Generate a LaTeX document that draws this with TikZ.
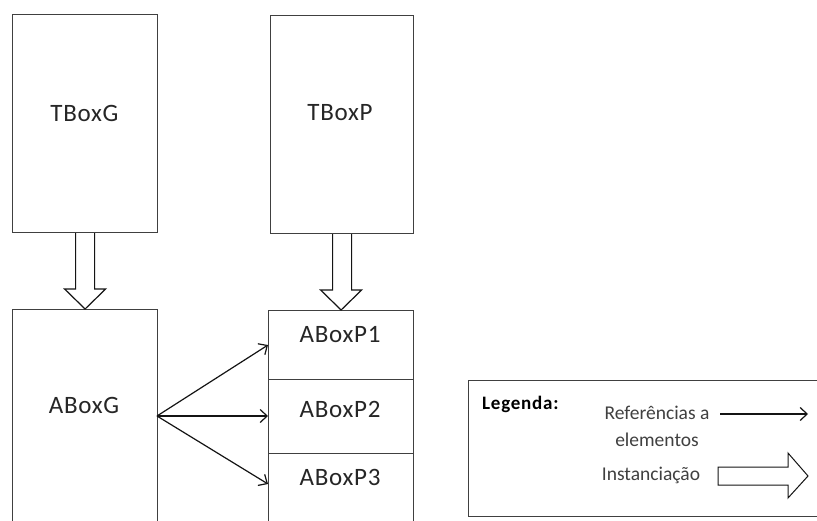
\documentclass[tikz,border=0pt]{standalone}
\usepackage{fontspec}
\setmainfont{Carlito}
\usetikzlibrary{arrows.meta,calc}
\definecolor{boxline}{RGB}{64,64,64}
\definecolor{inkline}{RGB}{20,20,20}
\begin{document}
\begin{tikzpicture}[x=1pt,y=-1pt,
  box/.style={draw=boxline, line width=1.2pt, rectangle, inner sep=0pt, anchor=north west},
  lbl/.style={font=\fontsize{25}{28}\selectfont\addfontfeatures{LetterSpace=3}, inner sep=0pt, text=black!85},
  leg/.style={font=\fontsize{19.5}{22}\selectfont, inner sep=0pt, text=black!75},
  hollow/.style={draw=inkline, line width=1.2pt, fill=white, line join=miter},
  ref/.style={draw=inkline, line width=1.2pt, -{Straight Barb[length=7pt,width=13pt,line width=1.2pt]}}]
\useasboundingbox (0,0) rectangle (817,520);
\clip (0,0) rectangle (817,520);
\fill[white] (0,0) rectangle (817,520);

% terminology boxes
\node[box, minimum width=145pt, minimum height=218pt] (tbg) at (12,14) {};
\node[box, minimum width=143pt, minimum height=218pt] (tbp) at (270,15) {};
\node[lbl] at (84.5,113) {TBoxG};
\node[lbl] at (340,113) {TBoxP};

% assertion boxes
\node[box, minimum width=145pt, minimum height=230pt] (abg) at (12,309) {};
\node[box, minimum width=145pt, minimum height=69pt] (p1) at (268,310) {};
\node[box, minimum width=145pt, minimum height=74pt] (p2) at (268,379) {};
\node[box, minimum width=145pt, minimum height=90pt] (p3) at (268,453) {};
\node[lbl] at (84,405) {ABoxG};
\node[lbl] at (340,335) {ABoxP1};
\node[lbl] at (340,409) {ABoxP2};
\node[lbl] at (340,477) {ABoxP3};

% instantiation arrows
\draw[hollow] ($(tbg.south)+(-9.5,0)$) |- ($(abg.north)+(-20.5,-20)$) -- (abg.north)
  -- ($(abg.north)+(20.5,-20)$) -| ($(tbg.south)+(9.5,0)$);
\draw[hollow] ($(tbp.south)+(-9.5,0)$) |- ($(p1.north)+(-20.5,-20)$) -- (p1.north)
  -- ($(p1.north)+(20.5,-20)$) -| ($(tbp.south)+(9.5,0)$);

% references
\coordinate (src) at (157,416);
\draw[ref] (src) -- (p1.west |- 0,345);
\draw[ref] (src) -- (p2.west |- 0,416);
\draw[ref] (src) -- (p3.west |- 0,484);

% legend
\node[box, minimum width=370pt, minimum height=136pt] (legend) at (468,380) {};
\node[leg, font=\fontsize{19}{22}\selectfont\bfseries\addfontfeatures{LetterSpace=4}, anchor=west, text=black] at (482,404) {Legenda:};
\node[leg] at (657,413) {Referências a};
\node[leg] at (657,440) {elementos};
\node[leg] at (651,475) {Instanciação};
\coordinate (ra) at (720,414);
\coordinate (rb) at (808,414);
\draw[ref] (ra) -- (rb);
\coordinate (ia) at (718,467);
\draw[hollow, line width=1pt] (ia) -- ++(70,0) -- ++(0,-14) -- ++(20,23) -- ++(-20,22)
  -- ++(0,-13) -- ++(-70,0) -- cycle;
\end{tikzpicture}
\end{document}
